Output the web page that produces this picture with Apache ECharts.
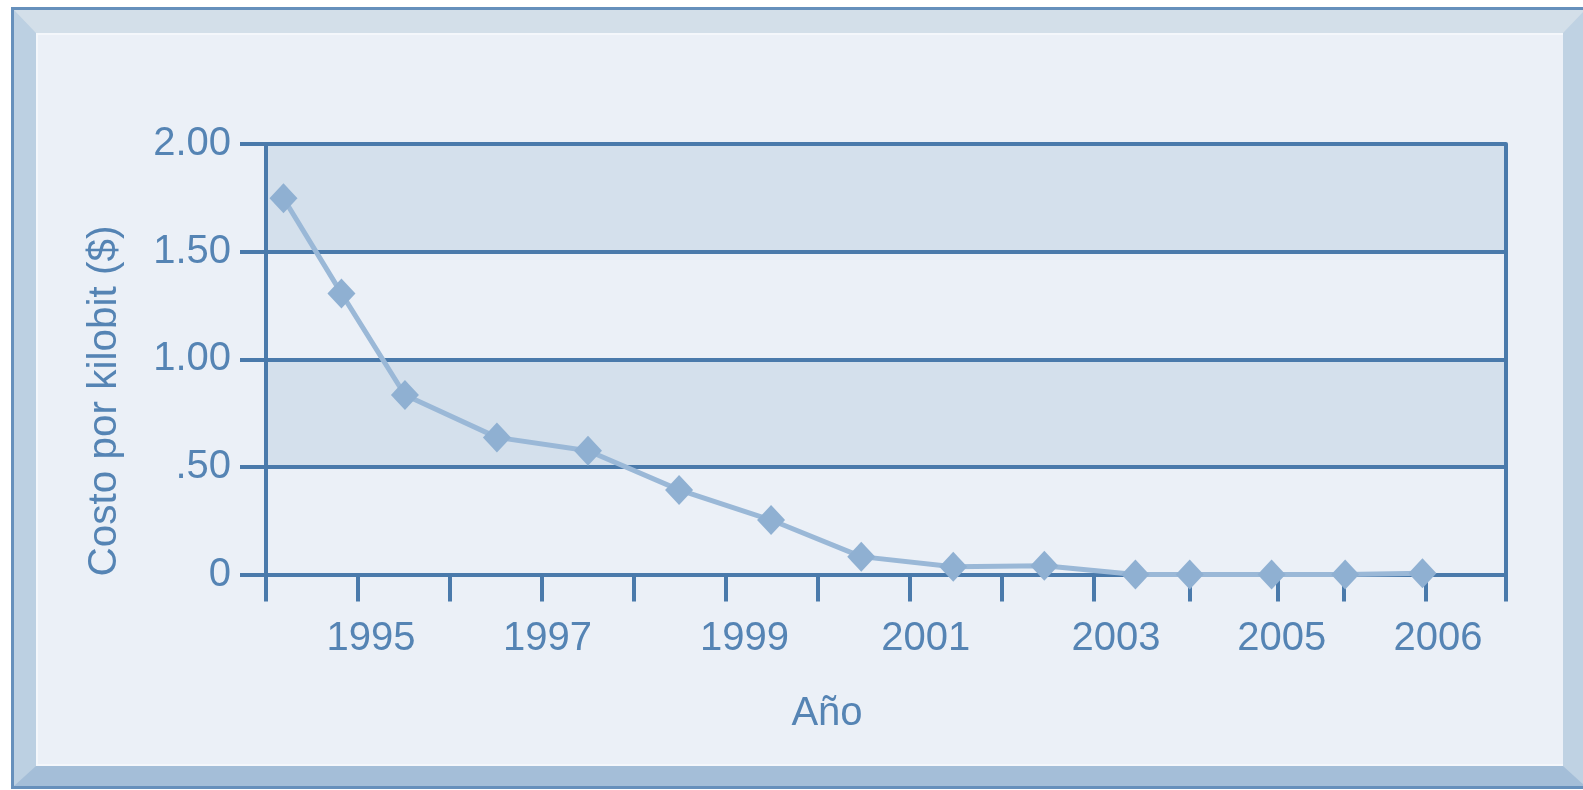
<!DOCTYPE html>
<html>
<head>
<meta charset="utf-8">
<script src="https://cdn.jsdelivr.net/npm/echarts@6/dist/echarts.min.js"></script>
<style>
  html, body { margin: 0; padding: 0; background: #ffffff; width: 1583px; height: 790px; overflow: hidden; }
  #frame { position: absolute; left: 11px; top: 7px; width: 1577px; height: 782px; box-sizing: border-box; border: 3px solid #6690bc; }
  #bevel { position: absolute; left: 0; top: 0; right: 0; bottom: 0; box-sizing: border-box;
           border-style: solid; border-width: 23px 22px 20px 22px;
           border-color: #d3dfe9 #bfd2e3 #a4bed8 #bcd0e2; background: #ebf0f7;
           box-shadow: inset 2px 2px 0 #f4f7fb, inset 0 -2px 0 #f4f7fb; }
  #chart { position: absolute; left: 0; top: 0; width: 1583px; height: 790px; }
</style>
</head>
<body>
<div id="frame"><div id="bevel"></div></div>
<div id="chart"></div>
<script>
// Data (x as fractional years along the axis)
const pointYears = [1994.19, 1994.82, 1995.51, 1996.51, 1997.50, 1998.49, 1999.49, 2000.47, 2001.47, 2002.46, 2003.45, 2004.04, 2004.93, 2005.73, 2006.57];
const costPerKilobit = [1.748, 1.306, 0.834, 0.637, 0.575, 0.393, 0.253, 0.083, 0.036, 0.041, 0.0, 0.0, 0.0, 0.0, 0.006];

// Axis ticks and labels
const xTickYears = [1994, 1995, 1996, 1997, 1998, 1999, 2000, 2001, 2002, 2003, 2004.04, 2005.0, 2005.71, 2006.61, 2007.478];
const xLabelPos = [1995.14, 1997.06, 1999.2, 2001.17, 2003.24, 2005.04, 2006.74];
const xLabelText = ['1995', '1997', '1999', '2001', '2003', '2005', '2006'];
const yTickValues = [0, 0.5, 1.0, 1.5, 2.0];
const yTickLabels = ['0', '.50', '1.00', '1.50', '2.00'];

const axisColor = '#4a7aab';
const textColor = '#5584b4';
const fontFamily = '"Liberation Sans", Arial, sans-serif';

const chart = echarts.init(document.getElementById('chart'), null, { renderer: 'canvas' });
chart.setOption({
  animation: false,
  backgroundColor: 'transparent',
  grid: {
    left: 266, right: 77, top: 144, bottom: 215.5,
    show: false
  },
  xAxis: {
    type: 'value',
    min: 1994,
    max: 2007.478,
    axisLine: { show: true, lineStyle: { color: axisColor, width: 4 } },
    axisTick: { show: true, length: 27, customValues: xTickYears, lineStyle: { color: axisColor, width: 4 } },
    axisLabel: {
      show: true,
      customValues: xLabelPos,
      margin: 44,
      color: textColor,
      fontSize: 40,
      fontFamily: fontFamily,
      formatter: function (v) {
        for (let i = 0; i < xLabelPos.length; i++) {
          if (Math.abs(xLabelPos[i] - v) < 1e-6) return xLabelText[i];
        }
        return '';
      }
    },
    splitLine: { show: false }
  },
  yAxis: [{
    type: 'value',
    min: 0,
    max: 2,
    interval: 0.5,
    axisLine: { show: true, lineStyle: { color: axisColor, width: 4 } },
    axisTick: { show: true, length: 26, lineStyle: { color: axisColor, width: 4 } },
    axisLabel: {
      color: textColor,
      fontSize: 40,
      fontFamily: fontFamily,
      margin: 35,
      formatter: function (v) {
        const i = yTickValues.findIndex(t => Math.abs(t - v) < 1e-9);
        return i >= 0 ? yTickLabels[i] : '';
      }
    },
    splitLine: { show: true, lineStyle: { color: axisColor, width: 4 } },
    splitArea: { show: true, areaStyle: { color: ['#ebf0f7', '#d4e0ec'] } }
  }, {
    type: 'value',
    position: 'right',
    min: 0,
    max: 2,
    interval: 0.5,
    axisLine: { show: true, lineStyle: { color: axisColor, width: 4 } },
    axisTick: { show: false },
    axisLabel: { show: false },
    splitLine: { show: false },
    splitArea: { show: false }
  }],
  graphic: [
    {
      type: 'text',
      x: 105, y: 401,
      rotation: Math.PI / 2,
      style: {
        text: 'Costo por kilobit ($)',
        fill: textColor,
        font: '40.5px "Liberation Sans", Arial, sans-serif',
        textAlign: 'center',
        textVerticalAlign: 'middle'
      }
    },
    {
      type: 'text',
      x: 827, y: 714,
      style: {
        text: 'Año',
        fill: textColor,
        font: '40px "Liberation Sans", Arial, sans-serif',
        textAlign: 'center',
        textVerticalAlign: 'middle'
      }
    }
  ],
  series: [{
    type: 'line',
    yAxisIndex: 0,
    data: pointYears.map((y, i) => [y, costPerKilobit[i]]),
    clip: false,
    symbol: 'diamond',
    symbolSize: [28, 30],
    lineStyle: { color: '#9ab8d7', width: 5 },
    itemStyle: { color: '#8fb0d2' },
    z: 5
  }]
});
</script>
</body>
</html>
